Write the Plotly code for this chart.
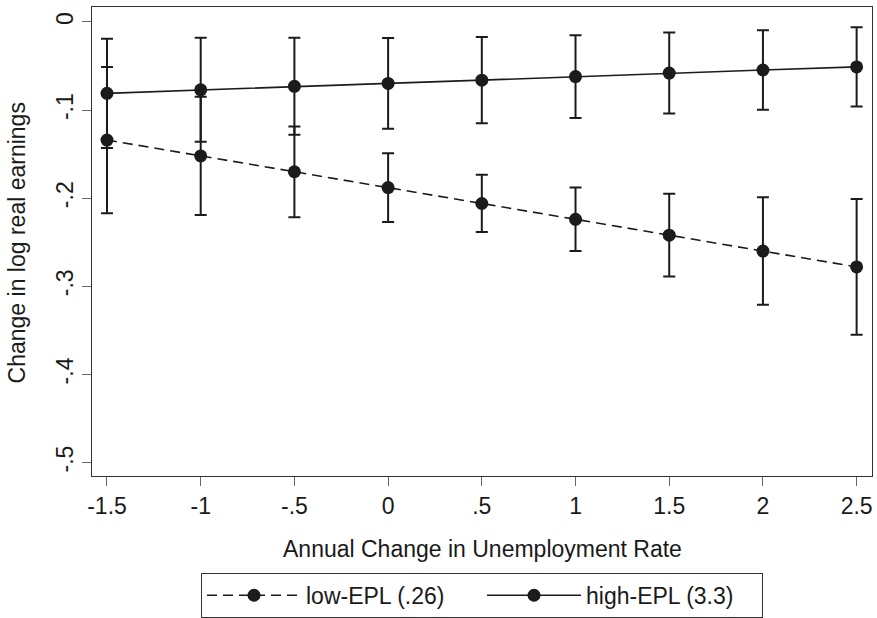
import plotly.graph_objects as go

# Data
x_vals = [-1.5, -1, -0.5, 0, 0.5, 1, 1.5, 2, 2.5]
low_epl = [-0.134, -0.152, -0.170, -0.188, -0.206, -0.224, -0.242, -0.260, -0.278]
low_err = [0.083, 0.067, 0.0515, 0.039, 0.0325, 0.036, 0.047, 0.061, 0.077]
high_epl = [-0.081, -0.077, -0.073, -0.0697, -0.066, -0.062, -0.058, -0.0545, -0.051]
high_err = [0.062, 0.059, 0.055, 0.0515, 0.049, 0.047, 0.046, 0.045, 0.045]

x_ticks = [-1.5, -1, -0.5, 0, 0.5, 1, 1.5, 2, 2.5]
x_ticklabels = ["-1.5", "-1", "-.5", "0", ".5", "1", "1.5", "2", "2.5"]
y_ticks = [0, -0.1, -0.2, -0.3, -0.4, -0.5]
y_ticklabels = ["0", "-.1", "-.2", "-.3", "-.4", "-.5"]

x_title = "Annual Change in Unemployment Rate"
y_title = "Change in log real earnings"

FONT = "Liberation Sans, Arial, Helvetica, sans-serif"
INK = "#1c1a1a"
FS = 23

fig = go.Figure()
fig.add_trace(go.Scatter(
    x=x_vals, y=low_epl, mode="lines+markers", name="low-EPL (.26)",
    line=dict(color=INK, width=1.6, dash="10px,6px"),
    marker=dict(color=INK, size=13),
    error_y=dict(type="data", array=low_err, visible=True, color=INK, thickness=2, width=6),
))
fig.add_trace(go.Scatter(
    x=x_vals, y=high_epl, mode="lines+markers", name="high-EPL (3.3)",
    line=dict(color=INK, width=1.6),
    marker=dict(color=INK, size=13),
    error_y=dict(type="data", array=high_err, visible=True, color=INK, thickness=2, width=6),
))

fig.update_layout(
    width=877, height=618,
    margin=dict(l=92, r=5, t=7, b=142, autoexpand=False),
    paper_bgcolor="white", plot_bgcolor="white",
    font=dict(family=FONT, size=FS, color="#1a1a1a"),
    showlegend=True,
    legend=dict(
        orientation="h", x=0.5, xanchor="center", y=-0.2064, yanchor="top",
        bordercolor="#333333", borderwidth=1, font=dict(size=FS),
        itemwidth=94, entrywidth=171, traceorder="normal",
    ),
    xaxis=dict(
        range=[-1.58, 2.582], tickvals=x_ticks, ticktext=x_ticklabels,
        showgrid=False, zeroline=False, showline=True, mirror=True,
        linecolor="#333333", linewidth=1.3, automargin=False,
        ticks="outside", ticklen=9, tickcolor="#666666", tickwidth=1.3,
        tickfont=dict(size=FS),
    ),
    yaxis=dict(
        range=[-0.5153, 0.017], tickvals=y_ticks, ticktext=y_ticklabels,
        showgrid=False, zeroline=False, showline=True, mirror=True,
        linecolor="#333333", linewidth=1.3, automargin=False,
        ticks="outside", ticklen=9, tickcolor="#666666", tickwidth=1.3,
        tickangle=-90, tickfont=dict(size=FS),
    ),
    annotations=[
        dict(text=x_title, xref="paper", yref="paper", x=0.5, y=-0.1553,
             xanchor="center", yanchor="middle", showarrow=False, font=dict(size=FS)),
        dict(text=y_title, xref="paper", yref="paper", x=-0.0962, y=0.498,
             xanchor="center", yanchor="middle", textangle=-90, showarrow=False,
             font=dict(size=FS)),
    ],
)

fig.write_html(
    "out.html",
    config={"displayModeBar": False},
    post_script="document.body.style.margin='0';document.body.style.overflow='hidden';",
)
